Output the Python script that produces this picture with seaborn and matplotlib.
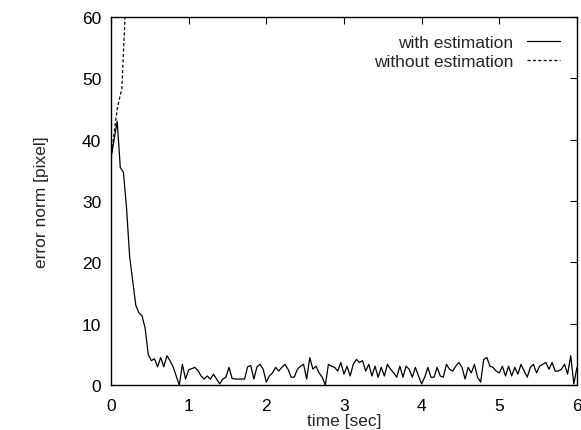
import numpy as np
import pandas as pd
import matplotlib
matplotlib.use("Agg")
import matplotlib.pyplot as plt
import seaborn as sns

# error norm with estimation, sampled every 0.04 s from 0 to 6 s
err_with = [
    37, 40, 43, 35.5, 34.7, 29, 21, 17, 13, 11.8,
    11.3, 9.3, 5, 4, 4.3, 3, 4.5, 3, 4.8, 4,
    3, 1.5, 0, 3.4, 1, 2.5, 2.7, 2.9, 2.4, 1.5,
    1, 1.5, 1, 1.8, 1, 0.2, 1, 1.3, 2.9, 1.1,
    1, 1, 1, 1, 3, 3.2, 1, 3, 3.4, 2.6,
    0.5, 1.5, 2, 2.9, 2.3, 2.9, 3.4, 2.6, 1.3, 1.3,
    2.6, 3.1, 3.4, 1, 4.5, 2.6, 3.1, 2, 1.3, 0,
    3.4, 3.1, 2.9, 2.3, 3.7, 1.8, 3.1, 1.5, 3.4, 4.2,
    3.7, 4, 2.3, 3.4, 1.5, 3.1, 1.3, 2.9, 1.5, 3.4,
    2.6, 2, 1.3, 3.1, 1.3, 3.1, 2.6, 1.3, 2.9, 1.5,
    0.2, 1.3, 2.9, 1.3, 1.3, 2.9, 1.5, 1.3, 3.4, 2.6,
    2.3, 3.1, 3.7, 2.9, 1, 2.9, 2, 3.4, 1.3, 0.5,
    4.2, 4.5, 3.1, 2.9, 2.3, 2, 3.1, 1.5, 3.1, 1.5,
    2.9, 1.8, 3.4, 2.3, 1.3, 2.9, 3.4, 2, 3.1, 3.4,
    3.7, 2.6, 3.7, 2.3, 2.3, 2.6, 3.4, 1.8, 4.8, 0.2,
    2.9,
]
time_with = np.linspace(0, 6, len(err_with))

# error norm without estimation (diverges quickly)
time_without = [0, 0.04, 0.08, 0.12, 0.14, 0.18, 0.2]
err_without = [37, 41, 45, 47.3, 48.3, 59.7, 75]

df_with = pd.DataFrame({"t": time_with, "e": err_with})
df_without = pd.DataFrame({"t": time_without, "e": err_without})

sns.set_style("white")
plt.rcParams["font.family"] = ["Liberation Sans", "DejaVu Sans"]
fs = 12.5

fig = plt.figure(figsize=(5.81, 4.31), dpi=100)
ax = fig.add_axes([0.191, 0.104, 0.802, 0.854])

sns.lineplot(data=df_with, x="t", y="e", ax=ax, color="black", lw=0.9,
             label="with estimation")
sns.lineplot(data=df_without, x="t", y="e", ax=ax, color="black", lw=0.9,
             linestyle=(0, (2.5, 1.8)), label="without estimation")

ax.set_xlim(0, 6)
ax.set_ylim(0, 60)
ax.set_xticks(range(0, 7))
ax.set_yticks(range(0, 61, 10))
ax.tick_params(direction="in", length=5, width=0.8, top=True, right=True,
               labelsize=fs, colors="black", pad=7)
ax.tick_params(axis="x", pad=9)
for s in ax.spines.values():
    s.set_color("black")
    s.set_linewidth(1.0)

ax.set_xlabel("time [sec]", fontsize=fs, labelpad=0)
ax.set_ylabel("error norm [pixel]", fontsize=fs, labelpad=24)

ax.legend(loc="upper right", frameon=False, markerfirst=False, fontsize=fs,
          handlelength=1.9, handletextpad=0.75, borderaxespad=0.6,
          labelspacing=0.25)

fig.savefig("out.png", dpi=100)
